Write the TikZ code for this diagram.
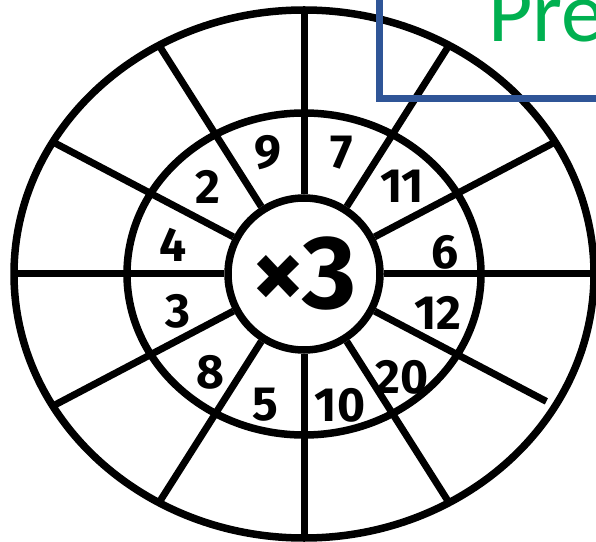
\documentclass[tikz,border=0pt]{standalone}
\usepackage{fontspec}
\setmainfont{Fira Sans}
\newfontfamily\calib{Carlito}
\usetikzlibrary{calc}
\definecolor{boxblue}{HTML}{2F5597}
\definecolor{pregreen}{HTML}{00B050}
\begin{document}
\begin{tikzpicture}[x=1pt,y=1pt,
  ring/.style={line width=7.5pt, draw=black},
  spoke/.style={line width=7pt, draw=black},
  num/.style={font=\fontsize{48}{48}\selectfont\bfseries, inner sep=0pt},
  hubstyle/.style={ring, circle, minimum size=152pt, inner sep=0pt, fill=white,
    font=\fontsize{104}{104}\selectfont\bfseries},
]
\useasboundingbox (0,0) rectangle (596,541);
\clip (0,0) rectangle (596,541);
\coordinate (C) at (304,267);
\draw[ring] (C) ellipse [x radius=290, y radius=264];
\draw[ring] (C) ellipse [x radius=177, y radius=161];
\node[hubstyle] (hub) at (C) {×3};
\foreach \a in {0,30,...,330}{
  \coordinate (o\a) at ($(C)+({290*cos(\a)},{264*sin(\a)})$);
}
\coordinate (short) at ($(C)!0.965!(o330)$);
\foreach \a in {0,30,60,90,120,150,180,210,240,270,300}{
  \draw[spoke] (hub) -- (o\a);
}
\draw[spoke] (hub) -- (short);
\node[num] (n9) at (268,388) {9};
\node[num] (n7) at (342,388) {7};
\node[num] (n11) at (402,355) {11};
\node[num] (n6) at (445,289) {6};
\node[num] (n12) at (438,228) {12};
\node[num] (n20) at (402,164) {20};
\node[num] (n10) at (340,136) {10};
\node[num] (n5) at (265,136) {5};
\node[num] (n8) at (210,169) {8};
\node[num] (n3) at (178,230) {3};
\node[num] (n4) at (173,296) {4};
\node[num] (n2) at (208,354) {2};
\draw[boxblue, line width=7pt] (379,442) rectangle (720,700);
\node[anchor=base west, inner sep=0pt, text=pregreen, font=\calib\fontsize{86}{86}\selectfont] (pre) at (488,499) {Pre};
\end{tikzpicture}
\end{document}
